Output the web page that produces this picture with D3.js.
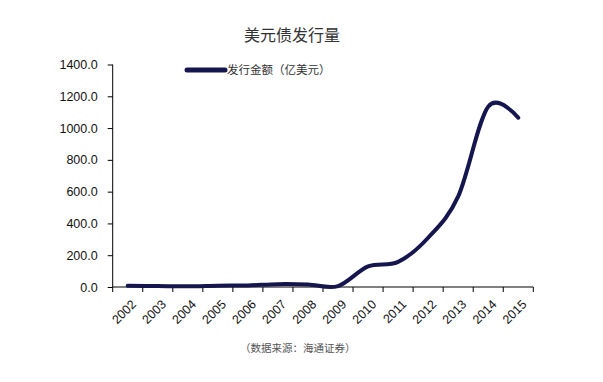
<!DOCTYPE html>
<html>
<head>
<meta charset="utf-8">
<script src="https://cdn.jsdelivr.net/npm/d3@7"></script>
<style>
  body { margin: 0; background: #fff; }
  text { font-family: "Liberation Sans", Arial, sans-serif; }
</style>
</head>
<body>
<div id="chart"></div>
<script>
const years = ["2002", "2003", "2004", "2005", "2006", "2007", "2008",
  "2009", "2010", "2011", "2012", "2013", "2014", "2015"];
const issuance = [8, 6, 4, 8, 10, 18, 16, 6, 130, 158, 310, 570, 1135, 1065];
const yTicks = [0, 200, 400, 600, 800, 1000, 1200, 1400];

const width = 603, height = 382;
const margin = { left: 112.7, right: 69.7, top: 64.5, bottom: 95 };
const lineColor = "#16164f";

const svg = d3.select("#chart").append("svg")
  .attr("width", width)
  .attr("height", height);

const xScale = d3.scaleBand()
  .domain(years)
  .range([margin.left, width - margin.right]);

const yScale = d3.scaleLinear()
  .domain([0, 1400])
  .range([height - margin.bottom, margin.top]);

// title
svg.append("text")
  .attr("x", 292).attr("y", 41)
  .attr("text-anchor", "middle")
  .style("font-family", "'Noto Sans CJK SC', sans-serif")
  .style("font-size", "16px")
  .style("fill", "#333")
  .text("美元债发行量");

// y axis
const yAxis = svg.append("g")
  .attr("transform", `translate(${margin.left},0)`)
  .call(d3.axisLeft(yScale).tickValues(yTicks).tickSize(5).tickPadding(10)
    .tickFormat(d => d3.format(".1f")(d)));
yAxis.selectAll("text").style("font-size", "12.5px").style("fill", "#111");
yAxis.selectAll("line, path").attr("stroke", "#000");
yAxis.select(".domain").attr("d", `M0,${yScale(1400)}V${yScale(0)}`);

// x axis
const xAxis = svg.append("g")
  .attr("transform", `translate(0,${yScale(0)})`)
  .call(d3.axisBottom(xScale).tickSize(0).tickPadding(0));
xAxis.select(".domain").attr("d", `M${margin.left},0H${width - margin.right}`).attr("stroke", "#000");
// tick marks at band boundaries
xAxis.selectAll(".bound")
  .data(d3.range(years.length + 1))
  .join("line")
  .attr("class", "bound")
  .attr("x1", i => margin.left + i * xScale.step())
  .attr("x2", i => margin.left + i * xScale.step())
  .attr("y1", 0).attr("y2", 5)
  .attr("stroke", "#000");
xAxis.selectAll(".tick text")
  .attr("text-anchor", "end")
  .attr("transform", "translate(6,15) rotate(-45)")
  .attr("dy", "0.35em")
  .attr("y", 0)
  .style("font-size", "12.5px")
  .style("fill", "#111");

// line
const line = d3.line()
  .x((d, i) => xScale(years[i]) + xScale.bandwidth() / 2)
  .y(d => yScale(d))
  .curve(d3.curveCardinal.tension(0));

svg.append("path")
  .datum(issuance)
  .attr("d", line)
  .attr("fill", "none")
  .attr("stroke", lineColor)
  .attr("stroke-width", 4)
  .attr("stroke-linecap", "round");

// legend
svg.append("line")
  .attr("x1", 187).attr("x2", 225)
  .attr("y1", 70).attr("y2", 70)
  .attr("stroke", lineColor)
  .attr("stroke-width", 5)
  .attr("stroke-linecap", "round");
svg.append("text")
  .attr("x", 227).attr("y", 74)
  .style("font-family", "'Noto Sans CJK SC', sans-serif")
  .style("font-size", "11.5px")
  .style("fill", "#333")
  .text("发行金额（亿美元）");

// source
svg.append("text")
  .attr("x", 240).attr("y", 352)
  .style("font-family", "'Noto Sans CJK SC', sans-serif")
  .style("font-size", "10.5px")
  .style("fill", "#555")
  .text("（数据来源：海通证券）");
</script>
</body>
</html>
